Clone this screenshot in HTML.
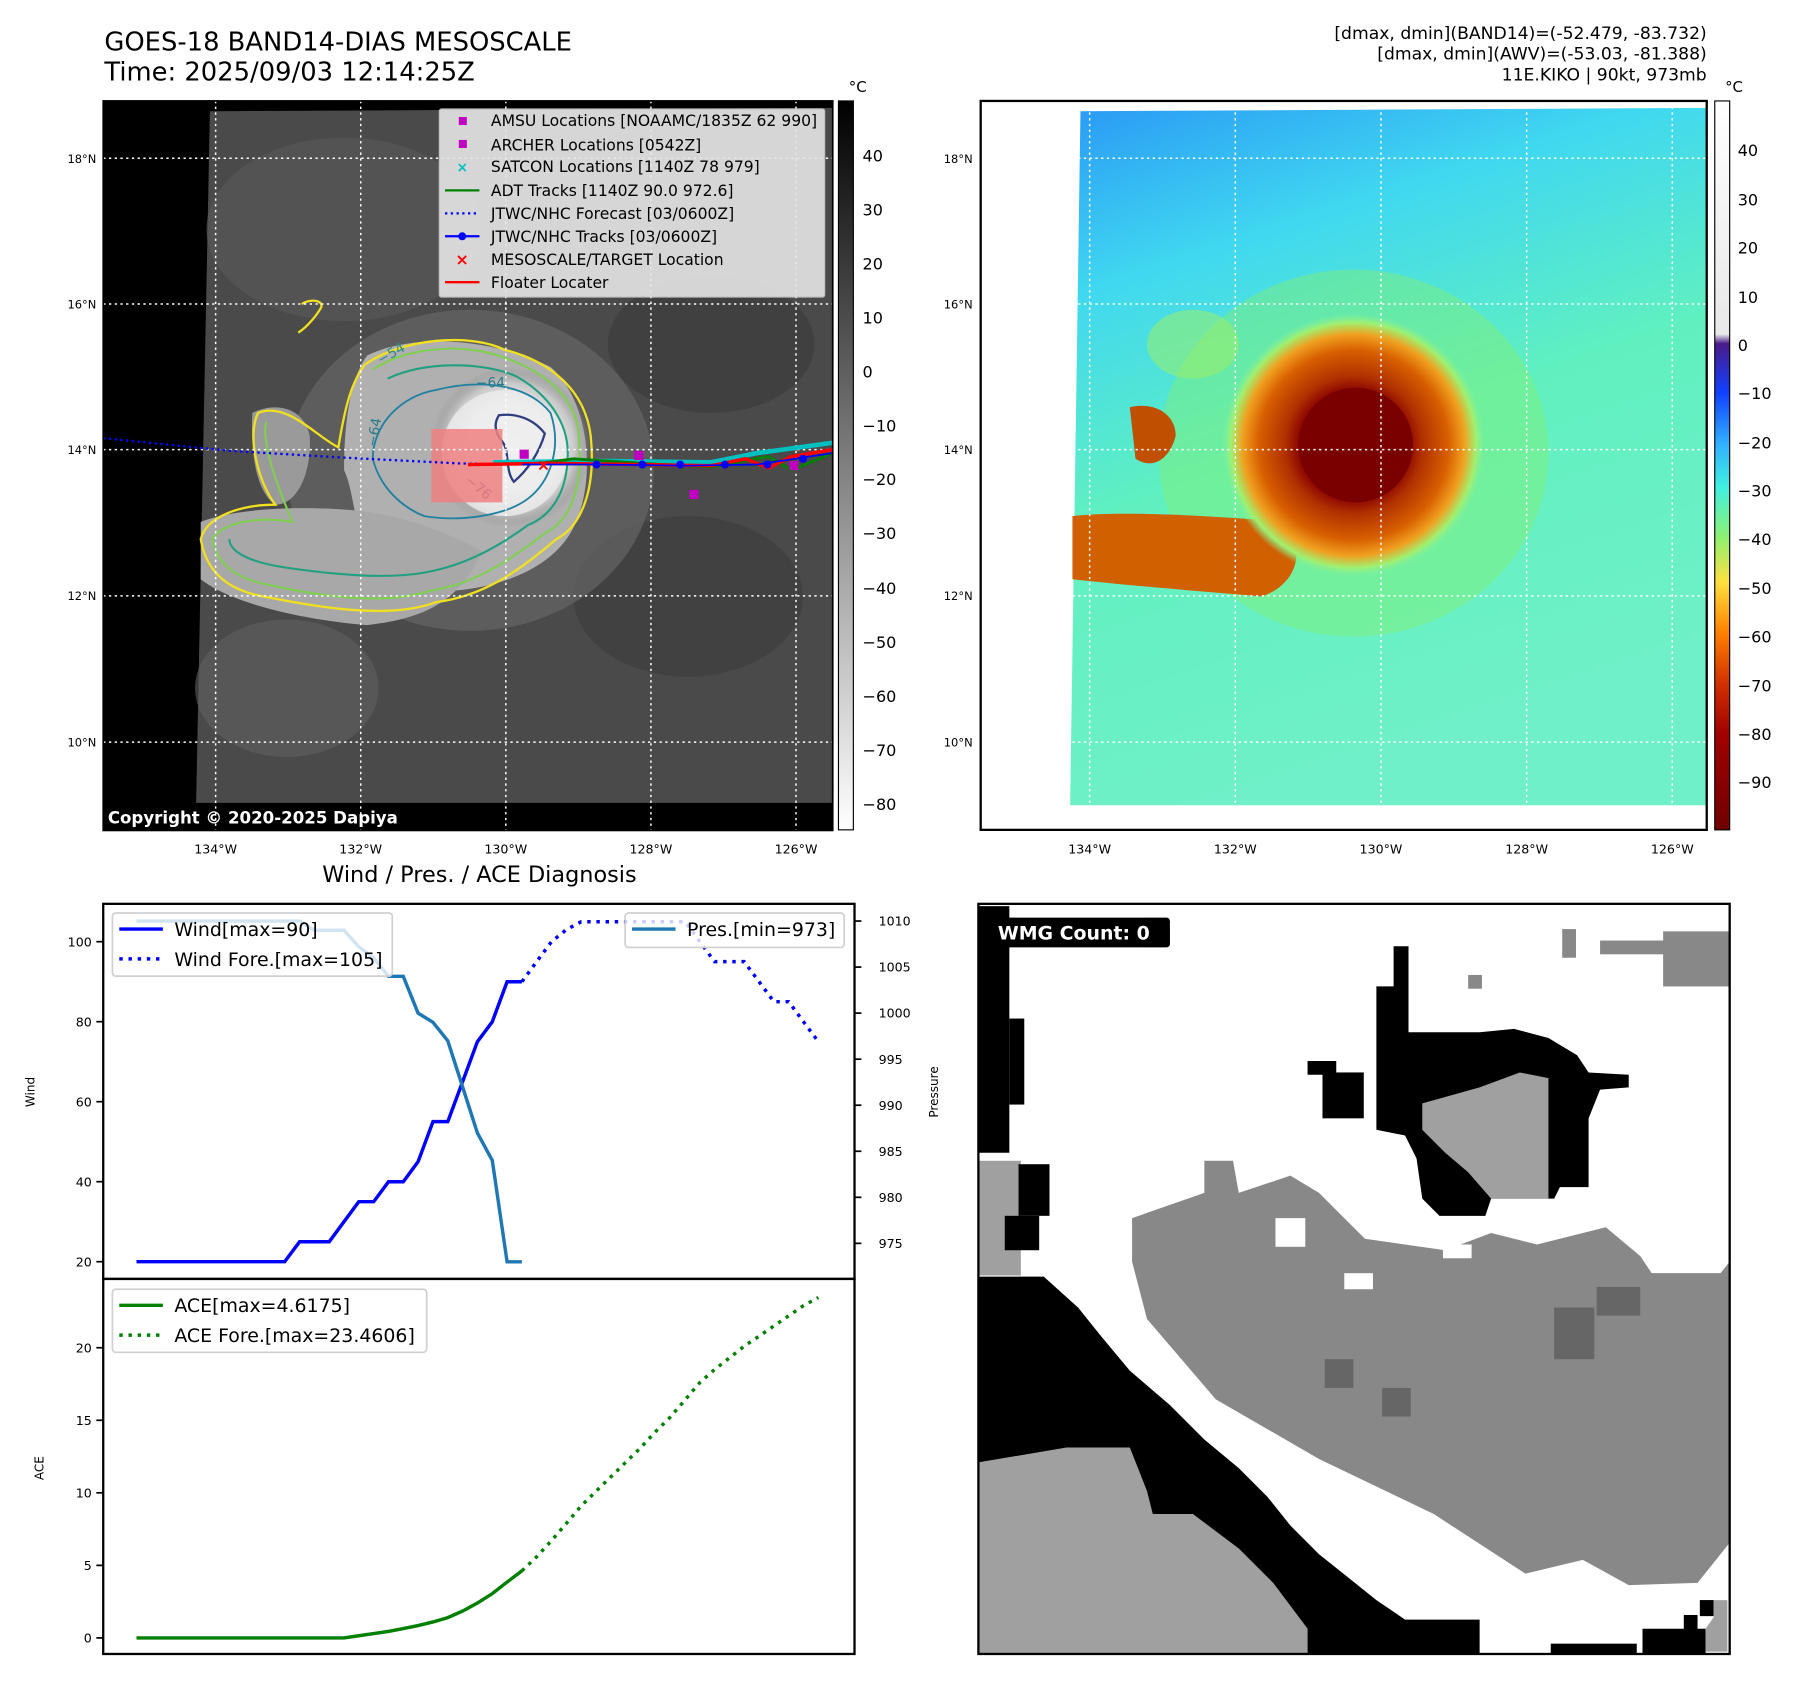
<!DOCTYPE html>
<html><head><meta charset="utf-8">
<style>
html,body{margin:0;padding:0;background:#fff;}
svg{display:block;font-family:"DejaVu Sans","Liberation Sans",sans-serif;}
</style></head>
<body>
<svg id="root" width="1797" height="1690" viewBox="0 0 1566.7 1473.4" xmlns="http://www.w3.org/2000/svg">
<defs>
 <radialGradient id="gEye" cx="0.5" cy="0.5" r="0.5">
  <stop offset="0" stop-color="#fafafa"/><stop offset="0.55" stop-color="#eeeeee"/><stop offset="0.8" stop-color="#c8c8c8"/><stop offset="1" stop-color="#8a8a8a" stop-opacity="0"/>
 </radialGradient>
 <radialGradient id="gHur" cx="0.5" cy="0.5" r="0.5">
  <stop offset="0" stop-color="#700000"/><stop offset="0.4" stop-color="#860000"/><stop offset="0.52" stop-color="#b03000"/><stop offset="0.72" stop-color="#d86000"/><stop offset="0.84" stop-color="#f0a020"/><stop offset="0.93" stop-color="#a0f070"/><stop offset="1" stop-color="#80f0a0" stop-opacity="0"/>
 </radialGradient>
 <linearGradient id="gRight" x1="0" y1="0" x2="0.3" y2="1">
  <stop offset="0" stop-color="#2a9af5"/><stop offset="0.25" stop-color="#40d8f0"/><stop offset="0.55" stop-color="#60f0c0"/><stop offset="1" stop-color="#70f0c8"/>
 </linearGradient>
 <linearGradient id="gCb1" x1="0" y1="0" x2="0" y2="1">
  <stop offset="0" stop-color="#000"/><stop offset="1" stop-color="#fff"/>
 </linearGradient>
 <linearGradient id="gCb2" x1="0" y1="0" x2="0" y2="1">
  <stop offset="0" stop-color="#ffffff"/><stop offset="0.32" stop-color="#e8e8e8"/><stop offset="0.333" stop-color="#4a1a8a"/><stop offset="0.4" stop-color="#1040ff"/><stop offset="0.47" stop-color="#30b0ff"/><stop offset="0.53" stop-color="#40f0e0"/><stop offset="0.6" stop-color="#90f070"/><stop offset="0.66" stop-color="#ffe040"/><stop offset="0.73" stop-color="#ff8000"/><stop offset="0.8" stop-color="#d03000"/><stop offset="0.87" stop-color="#a00000"/><stop offset="1" stop-color="#700000"/>
 </linearGradient>
</defs>

<!-- Titles -->
<text x="91" y="44" font-size="22.5">GOES-18 BAND14-DIAS MESOSCALE</text>
<text x="91" y="70" font-size="22.5">Time: 2025/09/03 12:14:25Z</text>
<g font-size="15" text-anchor="end">
 <text x="1488" y="34">[dmax, dmin](BAND14)=(-52.479, -83.732)</text>
 <text x="1488" y="52">[dmax, dmin](AWV)=(-53.03, -81.388)</text>
 <text x="1488" y="70">11E.KIKO | 90kt, 973mb</text>
</g>

<!-- Left map -->
<g>
 <rect x="90" y="88" width="636" height="636" fill="#000"/>
 <polygon points="183,97 726,94 726,700 171,700" fill="#4a4a4a"/>
 <ellipse cx="300" cy="200" rx="120" ry="80" fill="#5a5a5a" opacity="0.6"/>
 <ellipse cx="250" cy="600" rx="80" ry="60" fill="#606060" opacity="0.6"/>
 <ellipse cx="620" cy="300" rx="90" ry="60" fill="#3a3a3a" opacity="0.6"/>
 <ellipse cx="600" cy="520" rx="100" ry="70" fill="#3c3c3c" opacity="0.6"/>
 <ellipse cx="410" cy="410" rx="160" ry="140" fill="#6a6a6a" opacity="0.6"/>
 <path d="M320,310 C360,290 430,295 480,320 C515,350 520,420 500,460 C470,520 360,525 330,505 C310,480 310,430 300,410 C300,370 305,330 320,310Z" fill="#b0b0b0"/>
 <path d="M175,455 C200,445 250,440 310,445 C360,450 400,470 420,480 C400,530 360,540 320,545 C260,540 200,525 175,505Z" fill="#a8a8a8"/>
 <path d="M220,360 C240,350 265,355 270,380 C272,410 260,440 240,440 C225,430 218,400 220,360Z" fill="#9a9a9a"/>
 <circle cx="445" cy="390" r="70" fill="url(#gEye)"/>
 <circle cx="440" cy="395" r="55" fill="#ececec" opacity="0.8"/>
 <path d="M318,318 C350,295 410,290 440,305 C480,315 510,340 515,380 C520,430 505,460 485,470 C450,500 420,520 380,525 C340,540 280,530 230,520 C200,515 180,500 175,470 C180,450 210,440 240,440 C225,420 215,380 225,360 C250,350 275,380 295,390 C300,360 305,335 318,318Z" fill="none" stroke="#f0e020" stroke-width="2"/>
 <path d="M325,322 C360,300 410,300 440,312 C478,325 505,350 505,385 C508,430 495,455 475,465 C440,492 410,510 375,515 C335,528 280,520 235,510 C205,505 188,490 185,470 C195,455 225,450 255,455 C240,420 228,385 232,368" fill="none" stroke="#80d050" stroke-width="1.8"/>
 <path d="M338,330 C370,315 420,315 450,328 C480,345 495,370 495,395 C495,430 480,450 460,458 C430,480 400,495 365,500 C330,505 285,500 250,495 C215,490 200,480 200,470" fill="none" stroke="#20a080" stroke-width="1.8"/>
 <path d="M380,340 C420,330 460,335 480,360 C490,390 480,420 460,435 C440,450 400,455 370,450 C345,440 330,420 325,400 C325,370 350,345 380,340Z" fill="none" stroke="#2080a0" stroke-width="1.6"/>
 <path d="M435,362 C450,360 465,365 475,378 C470,395 460,410 448,420 C440,410 445,395 438,385 C432,378 430,370 435,362Z" fill="none" stroke="#303d80" stroke-width="2"/>
 <text x="332" y="318" font-size="12" fill="#2a8a8a" transform="rotate(-30 332 318)">−54</text>
 <text x="415" y="338" font-size="12" fill="#2a7a8a">−64</text>
 <text x="328" y="390" font-size="12" fill="#2a7a8a" transform="rotate(-80 328 390)">−64</text>
 <text x="405" y="420" font-size="12" fill="#304080" transform="rotate(40 405 420)">−76</text>
 <path d="M263,265 C272,260 282,262 280,268 C276,275 268,285 260,290" fill="none" stroke="#f0e020" stroke-width="2"/>
 <rect x="376" y="374" width="62" height="64" fill="#f08080" opacity="0.85"/>
 <g stroke="#fff" stroke-width="1.3" stroke-dasharray="2,3">
  <line x1="188" y1="88" x2="188" y2="724"/><line x1="314.5" y1="88" x2="314.5" y2="724"/><line x1="441" y1="88" x2="441" y2="724"/><line x1="567.5" y1="88" x2="567.5" y2="724"/><line x1="694" y1="88" x2="694" y2="724"/>
  <line x1="90" y1="138" x2="726" y2="138"/><line x1="90" y1="265" x2="726" y2="265"/><line x1="90" y1="392" x2="726" y2="392"/><line x1="90" y1="519.5" x2="726" y2="519.5"/><line x1="90" y1="647" x2="726" y2="647"/>
 </g>
 <polyline points="90,382 200,393 300,399 400,404 455,405" fill="none" stroke="#0000ff" stroke-width="2" stroke-dasharray="2,3"/>
 <polyline points="430,403 530,402 620,403 660,395 726,386" fill="none" stroke="#00c0c0" stroke-width="4"/>
 <polyline points="470,404 500,400 560,404 620,407 670,398 690,410 726,395" fill="none" stroke="#008000" stroke-width="2.5"/>
 <polyline points="408,405 480,404 560,405 620,406 650,400 670,408 690,398 726,392" fill="none" stroke="#ff0000" stroke-width="3"/>
 <polyline points="455,405 520,405 600,406 660,405 726,395" fill="none" stroke="#0000ff" stroke-width="1.5"/>
 <g fill="#0000ff"><circle cx="520" cy="405" r="3.5"/><circle cx="560" cy="405" r="3.5"/><circle cx="593" cy="405" r="3.5"/><circle cx="632" cy="405" r="3.5"/><circle cx="669" cy="405" r="3.5"/><circle cx="700" cy="400" r="3.5"/></g>
 <g fill="#c000c0"><rect x="453" y="392" width="8" height="8"/><rect x="553" y="393" width="8" height="8"/><rect x="601" y="427" width="8" height="8"/><rect x="688" y="402" width="8" height="8"/></g>
 <text x="468" y="410" font-size="14" fill="#ff0000" font-weight="bold">×</text>
 <g font-size="13.6">
  <rect x="383" y="95" width="336" height="164" fill="#e6e6e6" opacity="0.9" stroke="#ccc" rx="2"/>
  <rect x="400" y="102" width="7" height="7" fill="#c000c0"/><text x="428" y="110">AMSU Locations [NOAAMC/1835Z 62 990]</text>
  <rect x="400" y="122" width="7" height="7" fill="#c000c0"/><text x="428" y="131">ARCHER Locations [0542Z]</text>
  <text x="398" y="150" fill="#00c0c0" font-size="12" font-weight="bold">×</text><text x="428" y="150">SATCON Locations [1140Z 78 979]</text>
  <line x1="388" y1="166" x2="418" y2="166" stroke="#008000" stroke-width="2"/><text x="428" y="171">ADT Tracks [1140Z 90.0 972.6]</text>
  <line x1="388" y1="186" x2="418" y2="186" stroke="#0000ff" stroke-width="2" stroke-dasharray="2,3"/><text x="428" y="191">JTWC/NHC Forecast [03/0600Z]</text>
  <line x1="388" y1="206" x2="418" y2="206" stroke="#0000ff" stroke-width="2"/><circle cx="403" cy="206" r="3.5" fill="#0000ff"/><text x="428" y="211">JTWC/NHC Tracks [03/0600Z]</text>
  <text x="397" y="231" fill="#ff0000" font-size="14" font-weight="bold">×</text><text x="428" y="231">MESOSCALE/TARGET Location</text>
  <line x1="388" y1="246" x2="418" y2="246" stroke="#ff0000" stroke-width="2"/><text x="428" y="251">Floater Locater</text>
 </g>
 <text x="94" y="718" font-size="14.5" font-weight="bold" fill="#fff">Copyright © 2020-2025 Dapiya</text>
</g>
<rect x="90" y="88" width="636" height="636" fill="none" stroke="#000" stroke-width="1.5"/>
<g>
 <rect x="731" y="88" width="13" height="635.5" fill="url(#gCb1)" stroke="#000" stroke-width="1"/>
 <text x="740" y="80" font-size="13">°C</text>
 <g font-size="14"><text x="752" y="141">40</text><text x="752" y="188">30</text><text x="752" y="235">20</text><text x="752" y="282">10</text><text x="752" y="329">0</text><text x="752" y="376">−10</text><text x="752" y="423">−20</text><text x="752" y="470">−30</text><text x="752" y="518">−40</text><text x="752" y="565">−50</text><text x="752" y="612">−60</text><text x="752" y="659">−70</text><text x="752" y="706">−80</text></g>
</g>
<g font-size="10" text-anchor="end"><text x="84" y="142">18°N</text><text x="84" y="269">16°N</text><text x="84" y="396">14°N</text><text x="84" y="523">12°N</text><text x="84" y="651">10°N</text></g>
<g font-size="11" text-anchor="middle"><text x="188" y="744">134°W</text><text x="314.5" y="744">132°W</text><text x="441" y="744">130°W</text><text x="567.5" y="744">128°W</text><text x="694" y="744">126°W</text></g>

<!-- Right map -->
<g>
 <rect x="855" y="88" width="633" height="635.5" fill="#fff"/>
 <polygon points="942,97 1488,94 1488,702 933,702" fill="url(#gRight)"/>
 <ellipse cx="1180" cy="395" rx="170" ry="160" fill="#80f070" opacity="0.45"/>
 <ellipse cx="1040" cy="300" rx="40" ry="30" fill="#a0f060" opacity="0.5"/>
 <path d="M935,450 C980,445 1060,450 1120,455 C1140,480 1130,510 1100,520 C1040,515 980,510 935,505Z" fill="#d06000"/>
 <path d="M985,355 C1005,350 1025,360 1025,380 C1020,400 1005,410 990,400Z" fill="#c05000"/>
 <circle cx="1180" cy="388" r="115" fill="url(#gHur)"/>
 <circle cx="1182" cy="388" r="50" fill="#7a0000"/>
 <g stroke="#fff" stroke-width="1.3" stroke-dasharray="2,3">
  <line x1="950" y1="88" x2="950" y2="723"/><line x1="1077" y1="88" x2="1077" y2="723"/><line x1="1204" y1="88" x2="1204" y2="723"/><line x1="1331" y1="88" x2="1331" y2="723"/><line x1="1458" y1="88" x2="1458" y2="723"/>
  <line x1="855" y1="138" x2="1488" y2="138"/><line x1="855" y1="265" x2="1488" y2="265"/><line x1="855" y1="392" x2="1488" y2="392"/><line x1="855" y1="519.5" x2="1488" y2="519.5"/><line x1="855" y1="647" x2="1488" y2="647"/>
 </g>
</g>
<rect x="855" y="88" width="633" height="635.5" fill="none" stroke="#000" stroke-width="2"/>
<g>
 <rect x="1495" y="88" width="13" height="635.5" fill="url(#gCb2)" stroke="#000" stroke-width="1"/>
 <text x="1504" y="80" font-size="13">°C</text>
 <g font-size="14"><text x="1515" y="136">40</text><text x="1515" y="179">30</text><text x="1515" y="221">20</text><text x="1515" y="264">10</text><text x="1515" y="306">0</text><text x="1515" y="348">−10</text><text x="1515" y="391">−20</text><text x="1515" y="433">−30</text><text x="1515" y="475">−40</text><text x="1515" y="518">−50</text><text x="1515" y="560">−60</text><text x="1515" y="603">−70</text><text x="1515" y="645">−80</text><text x="1515" y="687">−90</text></g>
</g>
<g font-size="10" text-anchor="end"><text x="848" y="142">18°N</text><text x="848" y="269">16°N</text><text x="848" y="396">14°N</text><text x="848" y="523">12°N</text><text x="848" y="651">10°N</text></g>
<g font-size="11" text-anchor="middle"><text x="950" y="744">134°W</text><text x="1077" y="744">132°W</text><text x="1204" y="744">130°W</text><text x="1331" y="744">128°W</text><text x="1458" y="744">126°W</text></g>

<!-- WMG mask -->
<g>
 <rect x="853" y="788" width="655" height="654" fill="#fff"/>
 <polygon fill="#888" points="987,1062 1050,1040 1050,1012 1075,1012 1080,1040 1125,1025 1150,1040 1170,1060 1190,1080 1260,1090 1300,1075 1340,1085 1400,1070 1430,1095 1440,1110 1500,1110 1508,1100 1508,1345 1480,1380 1420,1382 1380,1360 1330,1372 1250,1320 1150,1272 1060,1220 1000,1150 987,1100"/>
 <rect x="1112" y="1062" width="26" height="25" fill="#fff"/><rect x="1172" y="1110" width="25" height="14" fill="#fff"/><rect x="1258" y="1085" width="25" height="12" fill="#fff"/>
 <g fill="#666"><rect x="1392" y="1122" width="38" height="25"/><rect x="1355" y="1140" width="35" height="45"/><rect x="1155" y="1185" width="25" height="25"/><rect x="1205" y="1210" width="25" height="25"/></g>
 <g fill="#888"><rect x="1450" y="812" width="58" height="48"/><rect x="1395" y="820" width="60" height="12"/><rect x="1362" y="810" width="12" height="25"/><rect x="1280" y="850" width="12" height="12"/></g>
 <polygon fill="#000" points="1200,860 1215,860 1215,825 1228,825 1228,900 1290,900 1320,897 1350,905 1375,920 1385,935 1420,937 1420,948 1395,950 1385,975 1385,1035 1360,1035 1355,1045 1300,1045 1295,1060 1255,1060 1240,1045 1235,1010 1225,990 1200,985"/>
 <polygon fill="#a0a0a0" points="1240,962 1290,948 1325,935 1350,940 1350,1045 1300,1045 1280,1022 1260,1005 1240,985"/>
 <g fill="#000"><rect x="1153" y="935" width="36" height="40"/><rect x="1140" y="925" width="25" height="12"/><rect x="853" y="790" width="27" height="215"/><rect x="880" y="888" width="13" height="75"/></g>
 <rect x="853" y="1012" width="37" height="100" fill="#a0a0a0"/>
 <g fill="#000"><rect x="888" y="1015" width="27" height="45"/><rect x="876" y="1060" width="30" height="30"/></g>
 <polygon fill="#a0a0a0" points="853,1275 930,1262 985,1262 1000,1300 1005,1320 1040,1320 1080,1350 1110,1380 1140,1420 1140,1442 853,1442"/>
 <polygon fill="#000" points="853,1113 910,1113 940,1140 960,1165 985,1195 1020,1225 1050,1255 1080,1280 1105,1305 1125,1330 1150,1355 1175,1375 1200,1395 1225,1412 1290,1412 1290,1442 1140,1442 1140,1420 1110,1380 1080,1350 1040,1320 1005,1320 1000,1300 985,1262 930,1262 853,1275"/>
 <g fill="#000"><rect x="1432" y="1420" width="55" height="22"/><rect x="1468" y="1408" width="12" height="14"/><rect x="1482" y="1395" width="12" height="14"/><rect x="1352" y="1433" width="75" height="9"/><rect x="1160" y="1410" width="25" height="25"/></g>
 <polygon fill="#a0a0a0" points="1494,1395 1506,1395 1506,1440 1487,1440 1487,1420 1494,1410"/>
 <rect x="862" y="800" width="158" height="26" rx="3" fill="#000"/>
 <text x="870" y="819" font-size="16.5" font-weight="bold" fill="#fff">WMG Count: 0</text>
</g>
<rect x="853" y="788" width="655" height="654" fill="none" stroke="#000" stroke-width="2"/>

<text x="418" y="769" font-size="19.5" text-anchor="middle">Wind / Pres. / ACE Diagnosis</text>
<g id="charts"></g>
</svg>
<script>
const windObs=[20,20,20,20,20,20,20,20,20,20,20,25,25,25,30,35,35,40,40,45,55,55,65,75,80,90,90];
const windFore=[90,95,100,103,105,105,105,105,105,105,105,105,100,95,95,95,90,85,85,80,75];
const presObs=[1010,1010,1010,1010,1010,1010,1010,1010,1010,1010,1010,1010,1009,1009,1009,1007.2,1006,1004,1004,1000,999,997,992,987,984,973,973];
const aceObs=[0,0,0,0,0,0,0,0,0,0,0,0,0,0,0,0.15,0.3,0.45,0.65,0.85,1.1,1.4,1.85,2.4,3.05,3.85,4.62];
const aceFore=[4.62,5.6,6.7,7.9,9.1,10.1,11.1,12.1,13.1,14.2,15.2,16.4,17.6,18.5,19.3,20.1,20.8,21.5,22.2,22.9,23.46];
const windTicks=[20,40,60,80,100];
const presTicks=[975,980,985,990,995,1000,1005,1010];
const aceTicks=[0,5,10,15,20];
const foreStart=26;
const NS="http://www.w3.org/2000/svg";
const g=document.getElementById('charts');
const xS=i=>119+i*(455-119)/26;
const yW=v=>1100-(v-20)*(1100-821)/80;
const yP=v=>803+(1010-v)*(1084-803)/35;
const yA=v=>1428-v*(1428-1175)/20;
function mk(tag,attrs,parent){const e=document.createElementNS(NS,tag);for(const k in attrs)e.setAttribute(k,attrs[k]);(parent||g).appendChild(e);return e;}
function line(vals,off,yf,color,dash,name){
 const pts=vals.map((v,i)=>xS(i+off).toFixed(1)+','+yf(v).toFixed(1)).join(' ');
 const p=mk('polyline',{points:pts,fill:'none',stroke:color,'stroke-width':3});
 if(dash)p.setAttribute('stroke-dasharray','3,5');
 
 
}
const f1=mk('rect',{x:90,y:788,width:655,height:327,fill:'none',stroke:'#000','stroke-width':2});


const f2=mk('rect',{x:90,y:1115,width:655,height:327,fill:'none',stroke:'#000','stroke-width':2});


windTicks.forEach(v=>{mk('line',{x1:84,x2:90,y1:yW(v),y2:yW(v),stroke:'#000','stroke-width':1.5});
 const t=mk('text',{x:80,y:yW(v)+4,'font-size':11,'text-anchor':'end'});t.textContent=v;
 
 });
presTicks.forEach(v=>{mk('line',{x1:745,x2:751,y1:yP(v),y2:yP(v),stroke:'#000','stroke-width':1.5});
 const t=mk('text',{x:766,y:yP(v)+4,'font-size':11});t.textContent=v;
 
 });
aceTicks.forEach(v=>{mk('line',{x1:84,x2:90,y1:yA(v),y2:yA(v),stroke:'#000','stroke-width':1.5});
 const t=mk('text',{x:80,y:yA(v)+4,'font-size':11,'text-anchor':'end'});t.textContent=v;
 
 });
function lbl(txt,x,y,name){const t=mk('text',{x:x,y:y,'font-size':10.5,'text-anchor':'middle',transform:`rotate(-90 ${x} ${y})`});t.textContent=txt;
 
 }
lbl('Wind',30,952,'wind-axis-title');lbl('Pressure',818,952,'pressure-axis-title');lbl('ACE',38,1280,'ace-axis-title');
line(windFore,foreStart,yW,'#0000ff',true,'wind-forecast-line');
line(windObs,0,yW,'#0000ff',false,'wind-line');
line(presObs,0,yP,'#1f77b4',false,'pressure-line');
line(aceFore,foreStart,yA,'#008000',true,'ace-forecast-line');
line(aceObs,0,yA,'#008000',false,'ace-line');
function legend(x,y,w,h,items,name){
 const lg=mk('g',{});
 
 
 mk('rect',{x:x,y:y,width:w,height:h,fill:'#fff','fill-opacity':0.8,stroke:'#d0d0d0','stroke-width':1.5,rx:3},lg);
 items.forEach((it,i)=>{const yy=y+14+i*26;
  const l=mk('line',{x1:x+6,x2:x+44,y1:yy,y2:yy,stroke:it[1],'stroke-width':3},lg);
  if(it[2])l.setAttribute('stroke-dasharray','3,5');
  const t=mk('text',{x:x+54,y:yy+6,'font-size':16.5},lg);t.textContent=it[0];});
}
legend(98,796,244,55,[['Wind[max=90]','#0000ff',false],['Wind Fore.[max=105]','#0000ff',true]],'wind-legend');
legend(545,796,191,30,[['Pres.[min=973]','#1f77b4',false]],'pressure-legend');
legend(98,1124,274,55,[['ACE[max=4.6175]','#008000',false],['ACE Fore.[max=23.4606]','#008000',true]],'ace-legend');
</script>
</body></html>
